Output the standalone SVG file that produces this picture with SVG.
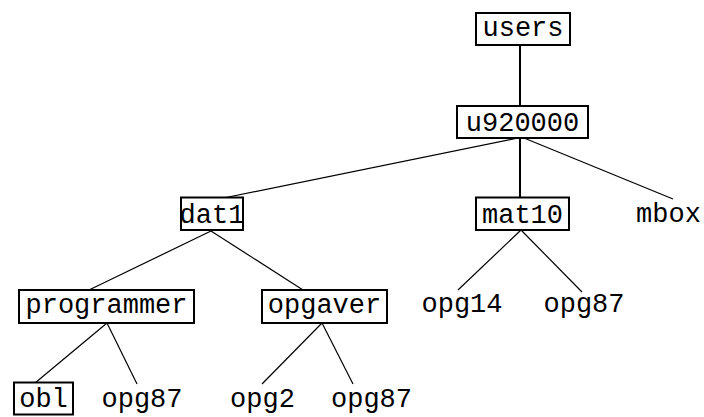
<svg xmlns="http://www.w3.org/2000/svg" width="704" height="417" viewBox="0 0 704 417">
<style>
text{font-family:"Liberation Mono","Courier New",monospace;font-size:27px;fill:#000;text-anchor:middle}
.box{fill:#fff;stroke:#000;stroke-width:2}
.c{stroke:#000;stroke-width:1.2;fill:none}
.v{stroke:#000;stroke-width:2;fill:none}
</style>
<rect width="704" height="417" fill="#fff"/>
<g id="connectors">
<line class="v" x1="520" y1="45" x2="520" y2="106"/>
<line class="c" x1="518" y1="138" x2="226" y2="197.5"/>
<line class="v" x1="520" y1="138" x2="520" y2="197.5"/>
<line class="c" x1="524" y1="138" x2="673" y2="199"/>
<line class="c" x1="211" y1="231" x2="89" y2="290"/>
<line class="c" x1="211" y1="231" x2="303" y2="290"/>
<line class="c" x1="521" y1="230" x2="458" y2="290"/>
<line class="c" x1="521" y1="230" x2="582" y2="292"/>
<line class="c" x1="107" y1="323" x2="35" y2="383"/>
<line class="c" x1="107" y1="323" x2="137" y2="384"/>
<line class="c" x1="322" y1="323" x2="262" y2="384"/>
<line class="c" x1="322" y1="323" x2="353" y2="384"/>
</g>
<g id="users"><rect class="box" x="476" y="13" width="94" height="32"/><text x="523" y="36">users</text></g>
<g id="u920000"><rect class="box" x="457" y="106" width="131" height="32"/><text x="522.5" y="131">u920000</text></g>
<g id="dat1"><rect class="box" x="181" y="197.5" width="62" height="32.5"/><text x="212" y="223">dat1</text></g>
<g id="mat10"><rect class="box" x="476" y="197.5" width="93" height="32.5"/><text x="522.5" y="223">mat10</text></g>
<g id="mbox"><text x="668.5" y="222">mbox</text></g>
<g id="programmer"><rect class="box" x="19" y="290" width="175" height="33"/><text x="106.5" y="313">programmer</text></g>
<g id="opgaver"><rect class="box" x="262" y="290" width="125" height="33"/><text x="324.5" y="313">opgaver</text></g>
<g id="opg14"><text x="462" y="312">opg14</text></g>
<g id="opg87_mat10"><text x="584" y="312">opg87</text></g>
<g id="obl"><rect class="box" x="14" y="382.5" width="59" height="32"/><text x="43.5" y="407">obl</text></g>
<g id="opg87_programmer"><text x="142" y="407">opg87</text></g>
<g id="opg2"><text x="262.5" y="407">opg2</text></g>
<g id="opg87_opgaver"><text x="371.5" y="407">opg87</text></g>
</svg>
